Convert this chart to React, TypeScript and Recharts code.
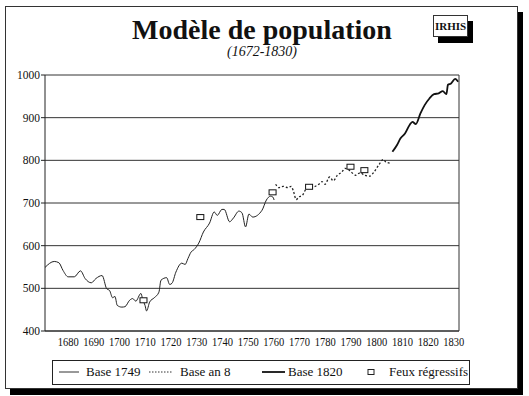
import React from "react";
import {
  ComposedChart,
  Line,
  Scatter,
  XAxis,
  YAxis,
  CartesianGrid,
} from "recharts";

// Base 1749 (thin solid)
const years1749 = [
  1671, 1674.6, 1676.4, 1678, 1680, 1682.4, 1684.8, 1686.6, 1689, 1690.8, 1693.2,
  1695, 1696.1, 1697.3, 1698.2, 1699.1, 1700.9, 1702.1, 1703.9, 1705.1, 1706.3,
  1708.3, 1709, 1709.9, 1710.5, 1711.7, 1713.5, 1715.3, 1716.1, 1718.3, 1719.5,
  1720.4, 1721.9, 1724.2, 1725.5, 1726.6, 1727.8, 1729, 1730.8, 1732.6, 1735,
  1736.8, 1738, 1739.8, 1740.7, 1742.8, 1744.3, 1746.4, 1747.6, 1749, 1750.3,
  1751.8, 1755.4, 1757.1, 1758.7, 1759.6, 1760.1,
];
const values1749 = [
  549, 563, 560, 542, 527, 527, 541, 523, 513, 523, 530,
  499, 495, 478, 481, 460, 456, 457, 472, 476, 470,
  488, 474, 460, 447, 468, 478, 491, 519, 525, 509,
  512, 538, 559, 556, 570, 585, 591, 606, 632, 653,
  679, 671, 685, 685, 656, 665, 681, 677, 644, 674,
  667, 683, 707, 716, 714, 707,
];

// Base an 8 (dotted)
const yearsAn8 = [
  1760.7, 1761.9, 1763.7, 1765.5, 1766.7, 1767.6, 1768.7, 1769.7, 1771.1, 1772.7,
  1773.9, 1775.7, 1777.5, 1778.7, 1779.9, 1781.7, 1783.1, 1784.7, 1786.5, 1787.6,
  1788.8, 1790, 1791.8, 1793.6, 1795.2, 1797.2, 1799, 1800.8, 1802.6, 1803.4, 1805.3,
];
const valuesAn8 = [
  744, 736, 739, 736, 739, 728, 708, 714, 718, 734,
  736, 738, 744, 750, 744, 761, 752, 765, 773, 781,
  779, 773, 765, 771, 765, 763, 773, 789, 802, 797, 793,
];

// Base 1820 (thick solid)
const years1820 = [
  1806.1, 1807.9, 1809.2, 1811, 1812.8, 1813.9, 1815.2, 1817, 1818.7, 1820.5,
  1822.3, 1824.1, 1825.7, 1827.1, 1827.7, 1828.9, 1830.5, 1831.7,
];
const values1820 = [
  820, 836, 851, 863, 883, 890, 885, 910, 930, 945,
  955, 957, 962, 955, 977, 980, 991, 984,
];

// Feux régressifs (squares)
const feuxYears = [1709.3, 1731.4, 1759.5, 1773.7, 1789.8, 1795.2];
const feuxValues = [472, 667, 725, 738, 785, 777];

const xTicks = [1680, 1690, 1700, 1710, 1720, 1730, 1740, 1750, 1760, 1770, 1780, 1790, 1800, 1810, 1820, 1830];
const yTicks = [400, 500, 600, 700, 800, 900, 1000];
const minorTicks = Array.from({ length: 161 }, (_, i) => 1671 + i);

const toRows = (xs: number[], ys: number[]) => xs.map((year, i) => ({ year, value: ys[i] }));

const data1749 = toRows(years1749, values1749);
const dataAn8 = toRows(yearsAn8, valuesAn8);
const data1820 = toRows(years1820, values1820);
const dataFeux = toRows(feuxYears, feuxValues);

const serif = "Liberation Serif, DejaVu Serif, serif";

const FeuxSquare = (props: any) => {
  const { cx, cy } = props;
  if (cx == null || cy == null) return <g />;
  return <rect x={cx - 3.5} y={cy - 2.5} width={7} height={5} fill="#fff" stroke="#111" strokeWidth={1} />;
};

const EmptyTick = () => <g />;

const YearTick = (props: any) => {
  const { x, y, payload } = props;
  return (
    <text
      x={x}
      y={y + 13}
      textAnchor="middle"
      fontFamily={serif}
      fontSize={12.5}
      fill="#111"
      textLength={21}
      lengthAdjust="spacingAndGlyphs"
    >
      {payload.value}
    </text>
  );
};

const ValueTick = (props: any) => {
  const { x, y, payload } = props;
  return (
    <text x={x} y={y + 4} textAnchor="end" fontFamily={serif} fontSize={11.5} fill="#111">
      {payload.value}
    </text>
  );
};

const legendText: React.CSSProperties = {
  position: "absolute",
  top: 3,
  whiteSpace: "nowrap",
  fontFamily: serif,
  fontSize: 13,
  lineHeight: "16px",
  color: "#111",
};

// legend drawn as a plain box below the chart
function LegendBox() {
  return (
    <div
      style={{
        position: "absolute",
        left: 52,
        top: 360,
        width: 418,
        height: 25,
        border: "1px solid #222",
        boxSizing: "border-box",
        background: "#fff",
      }}
    >
      <svg width={416} height={23} style={{ position: "absolute", left: 0, top: 0 }}>
        <line x1={6} y1={11} x2={26} y2={11} stroke="#333" strokeWidth={1} />
        <line x1={96} y1={11} x2={120} y2={11} stroke="#333" strokeWidth={1} strokeDasharray="1.5 1.5" />
        <line x1={209} y1={11} x2={232} y2={11} stroke="#111" strokeWidth={1.8} />
        <rect x={315} y={8.5} width={6} height={5} fill="#fff" stroke="#222" />
      </svg>
      <span style={{ ...legendText, left: 33 }}>Base 1749</span>
      <span style={{ ...legendText, left: 127 }}>Base an 8</span>
      <span style={{ ...legendText, left: 235 }}>Base 1820</span>
      <span style={{ ...legendText, left: 336 }}>Feux régressifs</span>
    </div>
  );
}

export default function App() {
  return (
    <div style={{ position: "absolute", left: 0, top: 0, width: 529, height: 396, background: "#fff", overflow: "hidden" }}>
      {/* outer frame with drop shadow */}
      <div
        style={{
          position: "absolute",
          left: 5,
          top: 6,
          width: 513,
          height: 383,
          border: "1px solid #333",
          boxSizing: "border-box",
          boxShadow: "5px 6px 0 #000",
          background: "#fff",
        }}
      />
      <div
        style={{
          position: "absolute",
          left: 0,
          top: 14,
          width: 524,
          textAlign: "center",
          fontFamily: serif,
          fontWeight: "bold",
          fontSize: 28,
          color: "#111",
          lineHeight: "32px",
        }}
      >
        Modèle de population
      </div>
      <div
        style={{
          position: "absolute",
          left: 0,
          top: 44,
          width: 524,
          textAlign: "center",
          fontFamily: serif,
          fontStyle: "italic",
          fontSize: 14,
          color: "#111",
        }}
      >
        (1672-1830)
      </div>
      <div
        style={{
          position: "absolute",
          left: 433,
          top: 15,
          width: 35,
          height: 22,
          border: "1px solid #333",
          boxSizing: "border-box",
          boxShadow: "5px 6px 0 #000",
          background: "#fff",
          fontFamily: serif,
          fontWeight: "bold",
          fontSize: 11,
          lineHeight: "20px",
          textAlign: "center",
          color: "#111",
        }}
      >
        IRHIS
      </div>
      <div style={{ position: "absolute", left: 0, top: 0 }}>
        <ComposedChart width={529} height={396} margin={{ top: 75, right: 35, left: 8, bottom: 45 }}>
          <CartesianGrid horizontal vertical={false} stroke="#333" strokeWidth={1} />
          <XAxis
            type="number"
            dataKey="year"
            xAxisId="minor"
            domain={[1671, 1832]}
            ticks={minorTicks}
            interval={0}
            tick={EmptyTick}
            tickSize={3}
            axisLine={false}
            tickLine={{ stroke: "#444" }}
            height={0}
            allowDataOverflow
          />
          <XAxis
            type="number"
            dataKey="year"
            domain={[1671, 1832]}
            ticks={xTicks}
            interval={0}
            tickLine={false}
            tickSize={0}
            axisLine={{ stroke: "#222" }}
            tick={YearTick}
            height={20}
            allowDataOverflow
          />
          <YAxis
            type="number"
            domain={[400, 1000]}
            ticks={yTicks}
            interval={0}
            width={37}
            tickSize={4}
            tickMargin={1}
            axisLine={{ stroke: "#222" }}
            tickLine={{ stroke: "#222" }}
            tick={ValueTick}
            allowDataOverflow
          />
          <YAxis
            yAxisId="right"
            orientation="right"
            type="number"
            domain={[400, 1000]}
            ticks={yTicks}
            width={35}
            tick={false}
            tickLine={false}
            axisLine={{ stroke: "#333" }}
          />
          <Line
            data={data1749}
            dataKey="value"
            type="monotone"
            stroke="#222"
            strokeWidth={1}
            dot={false}
            name="Base 1749"
            isAnimationActive={false}
          />
          <Line
            data={dataAn8}
            dataKey="value"
            type="monotone"
            stroke="#222"
            strokeWidth={1.3}
            strokeDasharray="2 2"
            dot={false}
            name="Base an 8"
            isAnimationActive={false}
          />
          <Line
            data={data1820}
            dataKey="value"
            type="monotone"
            stroke="#111"
            strokeWidth={1.8}
            dot={false}
            name="Base 1820"
            isAnimationActive={false}
          />
          <Scatter data={dataFeux} dataKey="value" shape={<FeuxSquare />} name="Feux régressifs" isAnimationActive={false} />
        </ComposedChart>
      </div>
      <LegendBox />
    </div>
  );
}
